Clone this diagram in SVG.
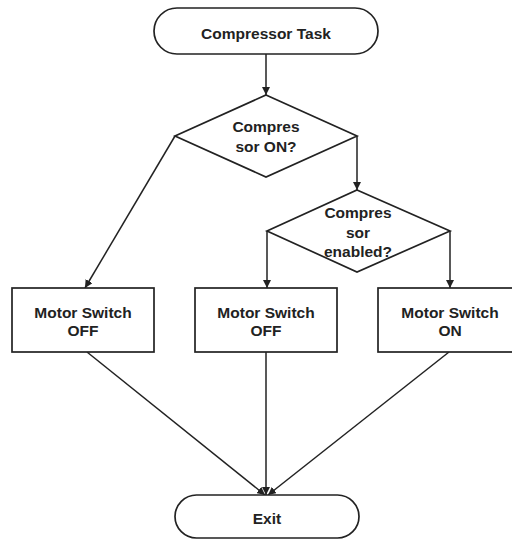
<svg xmlns="http://www.w3.org/2000/svg" width="512" height="540" viewBox="0 0 512 540">
  <defs>
    <marker id="arrow" viewBox="0 0 10 10" refX="10" refY="5" markerWidth="8" markerHeight="8" markerUnits="userSpaceOnUse" orient="auto">
      <path d="M0,0 L10,5 L0,10 z" fill="#222"/>
    </marker>
    <style>
      .shape { fill: #fff; stroke: #222; stroke-width: 1.7; }
      .edge { fill: none; stroke: #222; stroke-width: 1.5; marker-end: url(#arrow); }
      .label { font-family: "Liberation Sans", Arial, sans-serif; font-weight: bold; font-size: 15.5px; fill: #222; text-anchor: middle; }
    </style>
  </defs>
  <rect width="512" height="540" fill="#fff"/>

  <g id="connectors">
    <path class="edge" d="M266,54 L266,95"/>
    <path class="edge" d="M175,136 L85,288"/>
    <path class="edge" d="M357,136 L357,190"/>
    <path class="edge" d="M267,231 L267,288"/>
    <path class="edge" d="M450,231 L450,288"/>
    <path class="edge" d="M87,352 L265,495"/>
    <path class="edge" d="M266,352 L266,495"/>
    <path class="edge" d="M449,352 L268,495"/>
  </g>

  <g id="start">
    <rect class="shape" x="154" y="8" width="224" height="46" rx="23"/>
    <text class="label" x="266" y="38.5">Compressor Task</text>
  </g>

  <g id="decision-on">
    <path class="shape" d="M266,95 L357,136 L266,177 L175,136 z"/>
    <text class="label" x="266" y="132">Compres</text>
    <text class="label" x="266" y="152">sor ON?</text>
  </g>

  <g id="decision-enabled">
    <path class="shape" d="M357,190 L450,231 L357,272 L267,231 z"/>
    <text class="label" x="358" y="218">Compres</text>
    <text class="label" x="358" y="238">sor</text>
    <text class="label" x="358" y="257">enabled?</text>
  </g>

  <g id="switch-off-left">
    <rect class="shape" x="12" y="288" width="142" height="64"/>
    <text class="label" x="83" y="317.5">Motor Switch</text>
    <text class="label" x="83" y="336">OFF</text>
  </g>

  <g id="switch-off-middle">
    <rect class="shape" x="195" y="288" width="142" height="64"/>
    <text class="label" x="266" y="317.5">Motor Switch</text>
    <text class="label" x="266" y="336">OFF</text>
  </g>

  <g id="switch-on">
    <rect class="shape" x="378" y="288" width="144" height="64"/>
    <text class="label" x="450" y="317.5">Motor Switch</text>
    <text class="label" x="450" y="336">ON</text>
  </g>

  <g id="exit">
    <rect class="shape" x="175" y="495" width="184" height="43" rx="21.5"/>
    <text class="label" x="267" y="524">Exit</text>
  </g>
</svg>
